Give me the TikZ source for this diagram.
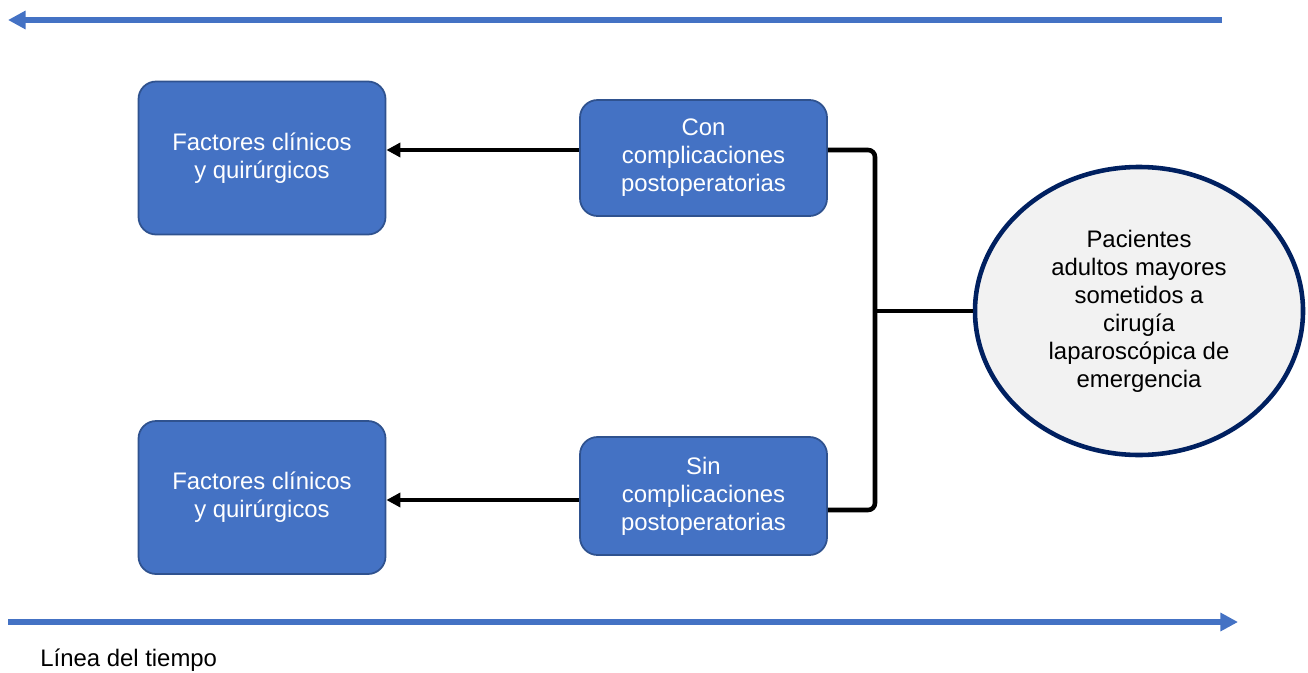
\documentclass[tikz,border=0pt]{standalone}
\usepackage{fontspec}
\setmainfont{Liberation Sans}
\usepackage{tikz}
\usetikzlibrary{arrows.meta}
\usetikzlibrary{shapes.geometric}

\definecolor{boxblue}{HTML}{4472C4}
\definecolor{boxedge}{HTML}{2F528F}
\definecolor{ovaledge}{HTML}{002060}
\definecolor{ovalfill}{HTML}{F2F2F2}

\begin{document}
\begin{tikzpicture}[
        font=\fontsize{13.6}{15.9}\selectfont,
        bluebox/.style={draw=boxedge, line width=1pt, fill=boxblue, rounded corners=10pt, text=white, align=center, minimum width=4.94cm},
        timeline/.style={draw=boxblue, line width=3.2pt, -{Triangle[length=10pt, width=10pt]}},
        link/.style={draw=black, line width=2.5pt, -{Triangle[length=8pt, width=8pt]}}
    ]
            \useasboundingbox (0,0) rectangle (26.16,13.44);
            
            \draw[timeline] (24.44,13.04) -- (0.16,13.04);
            \draw[timeline] (0.16,1.0) -- (24.76,1.0);
            \node[anchor=west, inner sep=0pt] (tiempo) at (0.8,0.24) {Línea del tiempo};
            
            \node[bluebox, minimum height=3.06cm] (fac1) at (5.24,10.28) {Factores clínicos\\y quirúrgicos};
            \node[bluebox, minimum height=2.32cm] (con) at (14.07,10.28) {Con\\complicaciones\\postoperatorias};
            \node[bluebox, minimum height=3.06cm] (fac2) at (5.24,3.49) {Factores clínicos\\y quirúrgicos};
            \node[bluebox, minimum height=2.36cm] (sin) at (14.07,3.52) {Sin\\complicaciones\\postoperatorias};
            
            \node[ellipse, draw=ovaledge, line width=2.6pt, fill=ovalfill, align=center, minimum width=6.56cm, minimum height=5.76cm, inner sep=0pt] (pac) at (22.78,7.22) {Pacientes\\adultos mayores\\sometidos a\\cirugía\\laparoscópica de\\emergencia};
            
            \coordinate (join) at (17.5,7.22);
            
            \draw[link] ([yshift=0.16cm]con.west) -- ([yshift=0.16cm]con.west -| fac1.east);
            \draw[link] ([yshift=-0.08cm]sin.west) -- ([yshift=-0.08cm]sin.west -| fac2.east);
            
            \draw[line width=2.6pt, rounded corners=4pt] ([yshift=0.16cm]con.east) -- ([yshift=0.16cm]con.east -| join) -- ([yshift=-0.28cm]sin.east -| join) -- ([yshift=-0.28cm]sin.east);
            \draw[line width=2.2pt] (join) -- (pac.west);
        \end{tikzpicture}
\end{document}
